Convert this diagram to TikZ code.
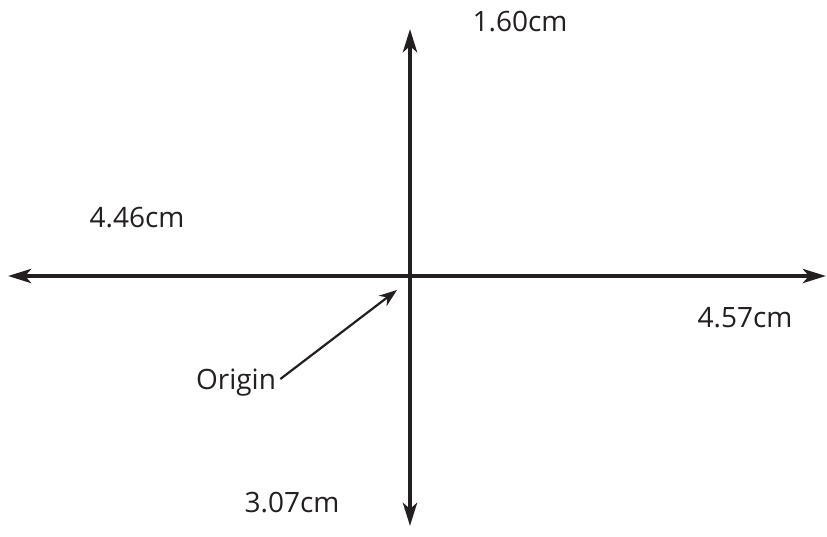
\documentclass[tikz,border=0pt]{standalone}
\usepackage{fontspec}
\setmainfont{Open Sans}
\usepackage{tikz}
\usetikzlibrary{arrows.meta, positioning}
\definecolor{axisdark}{RGB}{35,31,32}

\begin{document}
\begin{tikzpicture}[
  x=0.5pt, y=-0.5pt,
  axis/.style={{Stealth[length=11.5pt,width=7pt,inset=3pt]}-{Stealth[length=11.5pt,width=7pt,inset=3pt]}, line width=2.4pt, color=axisdark},
  pointer/.style={-{Stealth[length=9pt,width=6.5pt]}, line width=1.1pt, color=axisdark},
  dimlabel/.style={font=\fontsize{14}{17}\selectfont, text=axisdark, inner sep=0pt}
]
\useasboundingbox (0,0) rectangle (827,537);

% --- axis end points ---
\coordinate (orig)  at (410,276);
\coordinate (left)  at (8,276);
\coordinate (right) at (826,276);
\coordinate (top)   at (410,29);
\coordinate (bot)   at (410,526);

% --- axes ---
\draw[axis] (left) -- (right);
\draw[axis] (bot) -- (top);

% --- labels ---
\node[dimlabel] (up)    at (520,22)  {1.60cm};
\node[dimlabel] (lt)    at (137,218) {4.46cm};
\node[dimlabel] (rt)    at (745,318) {4.57cm};
\node[dimlabel] (dn)    at (292,503) {3.07cm};
\node[dimlabel] (olbl)  at (236,383) {Origin};

% --- origin pointer ---
\coordinate (otip) at (397,290);
\draw[pointer] (olbl.east) ++(4,-4) -- (otip);

\end{tikzpicture}
\end{document}
